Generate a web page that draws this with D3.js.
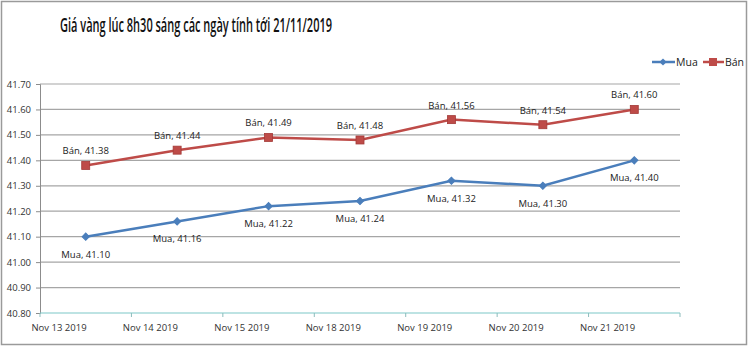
<!DOCTYPE html>
<html><head><meta charset="utf-8">
<script src="https://cdn.jsdelivr.net/npm/d3@7"></script>
<style>body{margin:0;background:#fff}svg{display:block}</style>
</head><body>
<script>
const categories = ["Nov 13 2019","Nov 14 2019","Nov 15 2019","Nov 18 2019","Nov 19 2019","Nov 20 2019","Nov 21 2019"];
const mua = [41.10,41.16,41.22,41.24,41.32,41.30,41.40];
const ban = [41.38,41.44,41.49,41.48,41.56,41.54,41.60];
const yTicks = [40.80,40.90,41.00,41.10,41.20,41.30,41.40,41.50,41.60,41.70];
const seriesNames = ["Mua","Bán"];
const title = "Giá vàng lúc 8h30 sáng các ngày tính tới 21/11/2019";

const W=750,H=347;
const font="'Open Sans', 'Noto Sans', sans-serif";
const svg=d3.select("body").append("svg").attr("width",W).attr("height",H);
svg.append("rect").attr("x",1.5).attr("y",1.5).attr("width",745).attr("height",343)
  .attr("fill","#fff").attr("stroke","#9a9a9a").attr("stroke-width",1.5);

const x=d3.scaleBand().domain(categories).range([40,680]);
const y=d3.scaleLinear().domain([40.8,41.7]).range([313,84]);

// grid
svg.append("g").selectAll("line").data(yTicks.slice(1)).join("line")
  .attr("x1",40).attr("x2",680).attr("y1",d=>y(d)).attr("y2",d=>y(d))
  .attr("stroke","#a6a6a6").attr("stroke-width",1.2);

// y axis
const ya=svg.append("g").attr("transform","translate(40,0)")
  .call(d3.axisLeft(y).tickValues(yTicks).tickFormat(d3.format(".2f")).tickSize(4).tickPadding(5));
ya.select(".domain").attr("stroke","#8c8c8c");
ya.selectAll(".tick line").attr("stroke","#8c8c8c");
ya.selectAll("text").attr("font-family",font).attr("font-size",9.5).attr("fill","#333");

// x axis
const xa=svg.append("g").attr("transform","translate(0,313)");
xa.append("line").attr("x1",40).attr("x2",680).attr("stroke","#7cc8c8").attr("stroke-width",1.2);
const bounds=categories.map(c=>x(c)).concat([x.range()[1]]);
xa.selectAll("line.tk").data(bounds).join("line").attr("class","tk")
  .attr("x1",d=>d).attr("x2",d=>d).attr("y1",0).attr("y2",4).attr("stroke","#8cbcbc");
xa.selectAll("text").data(categories).join("text")
  .attr("x",d=>x(d)+19).attr("y",18).attr("text-anchor","middle")
  .attr("font-family",font).attr("font-size",9.5).attr("fill","#333").text(d=>d);

const cx=d=>x(d)+x.bandwidth()/2;
const line=d3.line().x((v,i)=>cx(categories[i])).y(v=>y(v));

const blue="#4a7ebb", red="#be4b48";
svg.append("path").datum(ban).attr("d",line).attr("fill","none").attr("stroke",red).attr("stroke-width",2.5);
svg.append("path").datum(mua).attr("d",line).attr("fill","none").attr("stroke",blue).attr("stroke-width",2.5);

const diamond=d3.symbol().type(d3.symbolSquare).size(26);
svg.append("g").selectAll("path").data(mua).join("path").attr("d",diamond)
  .attr("transform",(v,i)=>`translate(${cx(categories[i])},${y(v)}) rotate(45)`).attr("fill",blue).attr("stroke",blue);
svg.append("g").selectAll("rect").data(ban).join("rect")
  .attr("x",(v,i)=>cx(categories[i])-4).attr("y",v=>y(v)-4).attr("width",8).attr("height",8)
  .attr("fill",red).attr("stroke","#a33a37").attr("stroke-width",0.8);

// labels
svg.append("g").selectAll("text").data(ban).join("text")
  .attr("x",(v,i)=>cx(categories[i])).attr("y",v=>y(v)-11).attr("text-anchor","middle")
  .attr("font-family",font).attr("font-size",9.5).attr("fill","#222")
  .text(v=>seriesNames[1]+", "+d3.format(".2f")(v));
svg.append("g").selectAll("text").data(mua).join("text")
  .attr("x",(v,i)=>cx(categories[i])).attr("y",v=>y(v)+21).attr("text-anchor","middle")
  .attr("font-family",font).attr("font-size",9.5).attr("fill","#222")
  .text(v=>seriesNames[0]+", "+d3.format(".2f")(v));

// title
svg.append("text").attr("x",60).attr("y",32).attr("font-family",font).attr("font-weight",600)
  .attr("font-size",19).attr("fill","#111").attr("textLength",272).attr("lengthAdjust","spacingAndGlyphs").text(title);

// legend
const lg=svg.append("g");
lg.append("line").attr("x1",652).attr("x2",675).attr("y1",62).attr("y2",62).attr("stroke",blue).attr("stroke-width",2.5);
lg.append("path").attr("d",diamond).attr("transform","translate(663,62) rotate(45)").attr("fill",blue);
lg.append("text").attr("x",676).attr("y",66).attr("font-family",font).attr("font-size",10.5).attr("fill","#222").text(seriesNames[0]);
lg.append("line").attr("x1",703).attr("x2",724).attr("y1",62).attr("y2",62).attr("stroke",red).attr("stroke-width",2.5);
lg.append("rect").attr("x",709).attr("y",58).attr("width",8).attr("height",8).attr("fill",red);
lg.append("text").attr("x",725).attr("y",66).attr("font-family",font).attr("font-size",10.5).attr("fill","#222").text(seriesNames[1]);
</script>
</body></html>
